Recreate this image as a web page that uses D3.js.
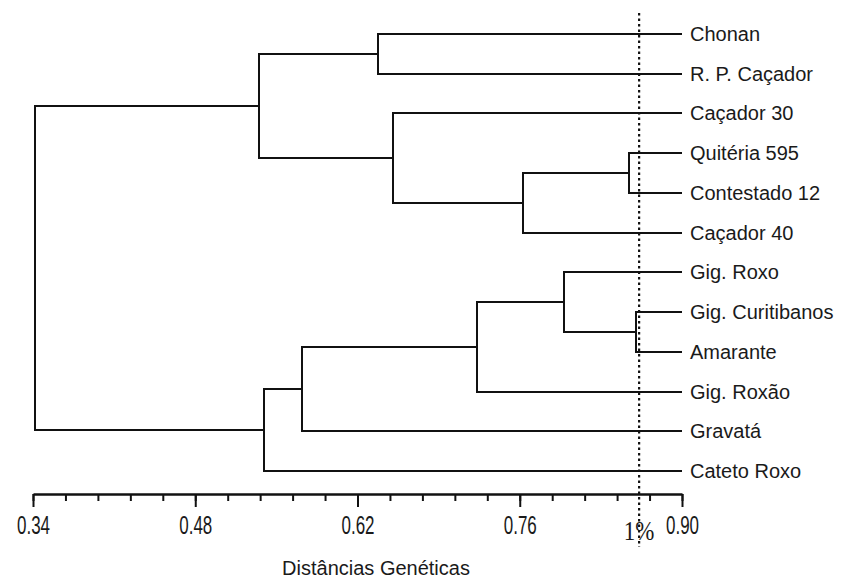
<!DOCTYPE html>
<html>
<head>
<meta charset="utf-8">
<script src="https://cdn.jsdelivr.net/npm/d3@7"></script>
<style>
  body { margin: 0; background: #fff; }
  svg { display: block; }
</style>
</head>
<body>
<div id="chart-area"></div>
<script>
'use strict';

// leaves, top to bottom
let leaves = ['Chonan', 'R. P. Caçador', 'Caçador 30', 'Quitéria 595', 'Contestado 12', 'Caçador 40',
    'Gig. Roxo', 'Gig. Curitibanos', 'Amarante', 'Gig. Roxão', 'Gravatá', 'Cateto Roxo'];
let leafDist = 0.90;

// clusters (name, children, joining distance)
let clusterNames = ['B', 'E', 'D', 'C', 'A', 'G', 'F', 'H', 'I', 'J', 'root'];
let clusterKids = [
    ['Chonan', 'R. P. Caçador'],
    ['Quitéria 595', 'Contestado 12'],
    ['E', 'Caçador 40'],
    ['Caçador 30', 'D'],
    ['B', 'C'],
    ['Gig. Curitibanos', 'Amarante'],
    ['Gig. Roxo', 'G'],
    ['F', 'Gig. Roxão'],
    ['H', 'Gravatá'],
    ['I', 'Cateto Roxo'],
    ['A', 'J']
];
let clusterDist = [0.638, 0.854, 0.763, 0.651, 0.535, 0.860, 0.798, 0.723, 0.572, 0.539, 0.342];

let majorTicks = [0.34, 0.48, 0.62, 0.76, 0.90];
let cutoff = 0.863;
let cutoffLabel = '1%';
let axisTitle = 'Distâncias Genéticas';

let width = 851, height = 579;

let svg = d3.select('#chart-area').append('svg')
    .attr('width', width)
    .attr('height', height);

let x = d3.scaleLinear()
    .domain([0.34, 0.90])
    .range([33, 682]);

let yLeaf = d3.scalePoint()
    .domain(leaves)
    .range([34, 471]);

// build tree
function makeNode(name) {
    let i = clusterNames.indexOf(name);
    if (i < 0) return {name: name, dist: leafDist};
    return {name: name, dist: clusterDist[i], children: clusterKids[i].map(makeNode)};
}
let root = d3.hierarchy(makeNode('root'));
root.eachAfter((n) => {
    n.px = Math.round(x(n.data.dist));
    n.py = Math.round(n.children ? d3.mean(n.children, (c) => c.py) : yLeaf(n.data.name));
});

let lineCol = '#111';
let g = svg.append('g')
    .attr('fill', 'none')
    .attr('stroke', lineCol)
    .attr('stroke-width', 2);

let internal = root.descendants().filter((n) => n.children);

g.selectAll('.vert')
    .data(internal)
    .enter()
    .append('line')
        .attr('x1', (n) => n.px)
        .attr('x2', (n) => n.px)
        .attr('y1', (n) => n.children[0].py - 1)
        .attr('y2', (n) => n.children[n.children.length - 1].py + 1);

g.selectAll('.horiz')
    .data(root.links())
    .enter()
    .append('line')
        .attr('x1', (l) => l.source.px)
        .attr('x2', (l) => l.target.px)
        .attr('y1', (l) => l.target.py)
        .attr('y2', (l) => l.target.py);

// leaf labels
svg.selectAll('.leaf')
    .data(root.leaves())
    .enter()
    .append('text')
        .attr('x', (n) => n.px + 8)
        .attr('y', (n) => n.py)
        .attr('dy', '0.35em')
        .attr('font-family', 'Liberation Sans, Arial, sans-serif')
        .attr('font-size', 20)
        .attr('fill', '#1a1a1a')
        .text((n) => n.data.name);

// axis
let axisY = 494;
let minor = svg.append('g')
    .attr('transform', 'translate(0,' + axisY + ')')
    .call(d3.axisBottom(x)
        .tickValues(d3.range(0.34, 0.9001, 0.028))
        .tickSize(7)
        .tickSizeOuter(0)
        .tickFormat(''));
minor.select('.domain').attr('stroke', lineCol).attr('stroke-width', 2.4);
minor.selectAll('.tick line').attr('stroke', lineCol).attr('stroke-width', 2);

let major = svg.append('g')
    .attr('transform', 'translate(0,' + axisY + ')')
    .call(d3.axisBottom(x)
        .tickValues(majorTicks)
        .tickSize(13)
        .tickSizeOuter(0)
        .tickFormat(d3.format('.2f')));
major.select('.domain').remove();
major.selectAll('.tick line').attr('stroke', lineCol).attr('stroke-width', 2);
major.selectAll('.tick text')
    .attr('y', 22)
    .attr('dy', '0.71em')
    .attr('font-family', 'Liberation Sans, Arial, sans-serif')
    .attr('font-size', 25)
    .attr('fill', '#1a1a1a')
    .attr('transform', 'scale(0.68,1)');

// cutoff line
svg.append('line')
    .attr('x1', x(cutoff))
    .attr('x2', x(cutoff))
    .attr('y1', 13)
    .attr('y2', 547)
    .attr('stroke', lineCol)
    .attr('stroke-width', 2.2)
    .attr('stroke-dasharray', '2.5,3');

svg.append('text')
    .attr('transform', 'translate(' + x(cutoff) + ',540) scale(0.85,1)')
    .attr('text-anchor', 'middle')
    .attr('font-family', 'Liberation Serif, serif')
    .attr('font-size', 27)
    .attr('fill', '#1a1a1a')
    .text(cutoffLabel);

svg.append('text')
    .attr('x', 376)
    .attr('y', 575)
    .attr('text-anchor', 'middle')
    .attr('font-family', 'Liberation Sans, Arial, sans-serif')
    .attr('font-size', 20)
    .attr('fill', '#1a1a1a')
    .text(axisTitle);
</script>
</body>
</html>
